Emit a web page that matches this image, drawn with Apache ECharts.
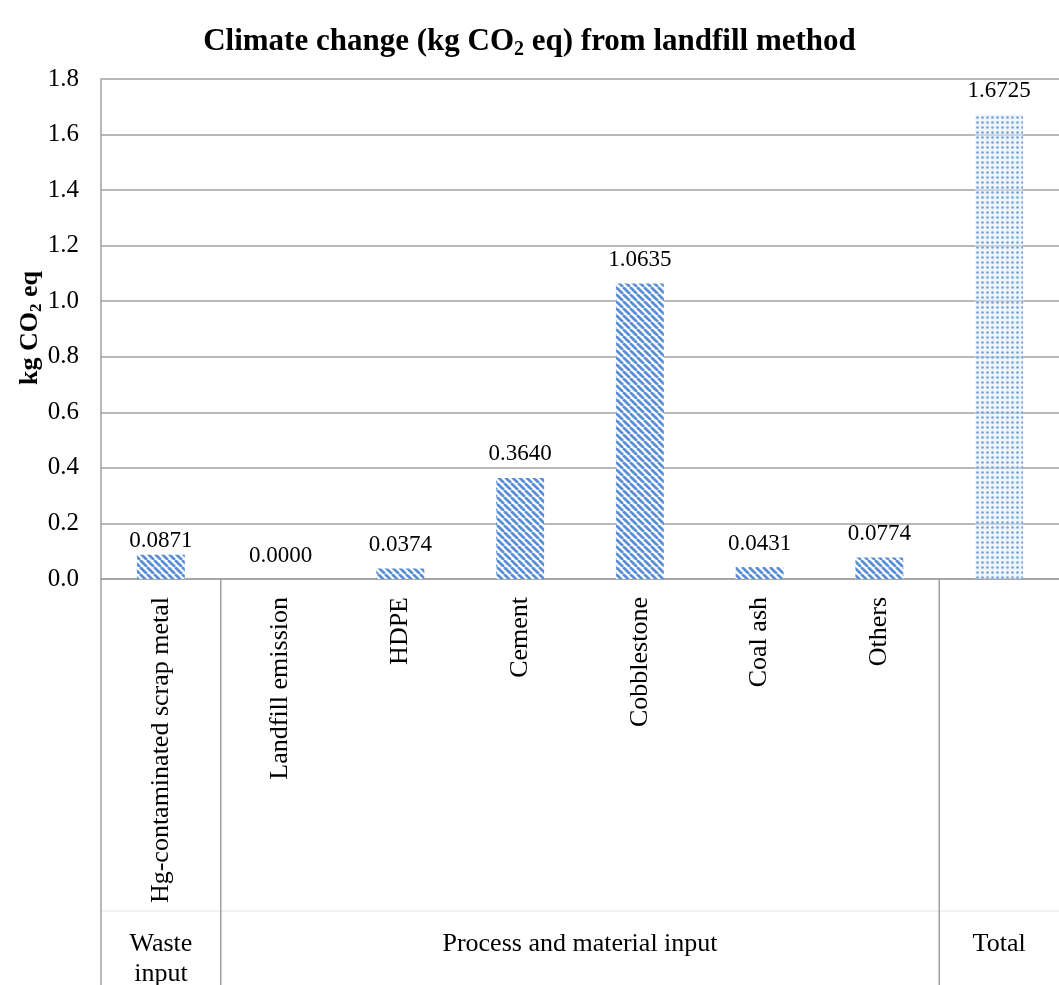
<!DOCTYPE html>
<html>
<head>
<meta charset="utf-8">
<script src="https://cdn.jsdelivr.net/npm/echarts@6/dist/echarts.min.js"></script>
<style>
  html, body { margin: 0; padding: 0; background: #fff; }
  #chart { width: 1059px; height: 985px; }
</style>
</head>
<body>
<div id="chart"></div>
<script>
// Chart data
const categories = ['Hg-contaminated scrap metal', 'Landfill emission', 'HDPE', 'Cement',
                    'Cobblestone', 'Coal ash', 'Others', 'Total'];
const values = [0.0871, 0.0000, 0.0374, 0.3640, 1.0635, 0.0431, 0.0774, 1.6725];
const groupNames = ['Waste\ninput', 'Process and material input', 'Total'];
const groupFrom = [0, 1, 7];
const groupTo = [0, 6, 7];
const yMin = 0, yMax = 1.8, yStep = 0.2;

const SERIF = 'Liberation Serif, Times New Roman, serif';
const GRID_COLOR = '#a0a0a0';

// Diagonal hatch fill for the component bars
function stripePattern() {
  const s = 7;
  const c = document.createElement('canvas');
  c.width = c.height = s;
  const g = c.getContext('2d');
  g.fillStyle = '#ffffff';
  g.fillRect(0, 0, s, s);
  g.strokeStyle = '#5b8fd3';
  g.lineWidth = 2.7;
  for (let k = -1; k <= 1; k++) {
    g.beginPath();
    g.moveTo(k * s, 0);
    g.lineTo(k * s + s, s);
    g.stroke();
  }
  return c;
}

// Dotted fill for the total bar
function dotPattern() {
  const s = 5;
  const c = document.createElement('canvas');
  c.width = c.height = s;
  const g = c.getContext('2d');
  g.fillStyle = 'rgba(226,236,250,0.55)';
  g.fillRect(0, 0, s, s);
  g.fillStyle = '#7aa3da';
  g.beginPath();
  g.arc(2.5, 2.5, 1.35, 0, Math.PI * 2);
  g.fill();
  return c;
}

const stripes = stripePattern();
const dots = dotPattern();

const chart = echarts.init(document.getElementById('chart'), null, { renderer: 'canvas' });

const option = {
  backgroundColor: '#ffffff',
  animation: false,
  title: {
    text: '{b|Climate change (kg CO}{s|2}{b| eq) from landfill method}',
    left: 'center',
    top: 19,
    textStyle: {
      rich: {
        b: { fontFamily: SERIF, fontWeight: 'bold', fontSize: 31, color: '#000' },
        s: { fontFamily: SERIF, fontWeight: 'bold', fontSize: 20, color: '#000', padding: [16, 0, 0, 0] }
      }
    }
  },
  grid: { left: 101, right: -4, top: 79, bottom: 406, containLabel: false },
  xAxis: {
    type: 'category',
    data: categories,
    axisLine: { show: true, lineStyle: { color: GRID_COLOR, width: 1.5 } },
    axisTick: { show: false },
    axisLabel: {
      interval: 0,
      rotate: 90,
      margin: 18,
      fontFamily: SERIF,
      fontSize: 26,
      color: '#000',
      // the last category is named only in the group row
      formatter: (v, i) => (i === categories.length - 1 ? '' : v)
    }
  },
  yAxis: {
    type: 'value',
    min: yMin,
    max: yMax,
    interval: yStep,
    axisLine: { show: true, lineStyle: { color: GRID_COLOR, width: 1.5 } },
    axisTick: { show: false },
    splitLine: { show: true, lineStyle: { color: GRID_COLOR, width: 1.5 } },
    axisLabel: {
      margin: 22,
      fontFamily: SERIF,
      fontSize: 25,
      color: '#000',
      formatter: v => v.toFixed(1)
    }
  },
  series: [{
    type: 'bar',
    barWidth: '40%',
    data: values.map((v, i) => ({
      value: v,
      itemStyle: { color: { image: i === values.length - 1 ? dots : stripes, repeat: 'repeat' } },
      // first label sits close to its bar, clear of the 0.2 gridline
      label: i === 0 ? { distance: 2 } : undefined
    })),
    label: {
      show: true,
      position: 'top',
      distance: 12,
      fontFamily: SERIF,
      fontSize: 23,
      color: '#000',
      formatter: p => p.value.toFixed(4)
    }
  }]
};

chart.setOption(option);

// Category-group row below the axis: separators and group names
function drawGroups() {
  const px = i => chart.convertToPixel({ xAxisIndex: 0 }, i);
  const step = px(1) - px(0);
  const axisY = chart.convertToPixel({ yAxisIndex: 0 }, yMin);
  const bottomY = 985;
  const rowLineY = axisY + 332;
  const labelY = axisY + 365;
  const elements = [];

  elements.push({
    type: 'line', silent: true, z: 1,
    shape: { x1: px(0) - step / 2, y1: rowLineY, x2: 1059, y2: rowLineY },
    style: { stroke: '#e4e4e4', lineWidth: 1 }
  });

  groupNames.forEach((name, g) => {
    const left = px(groupFrom[g]) - step / 2;
    const right = px(groupTo[g]) + step / 2;
    elements.push({
      type: 'line', silent: true, z: 2,
      shape: { x1: left, y1: axisY, x2: left, y2: bottomY },
      style: { stroke: GRID_COLOR, lineWidth: 1.5 }
    });
    elements.push({
      type: 'text', silent: true, z: 3,
      x: (left + right) / 2,
      y: labelY + (name.indexOf('\n') >= 0 ? 15 : 0),
      style: {
        text: name,
        align: 'center',
        verticalAlign: 'middle',
        fontFamily: SERIF,
        fontSize: 26,
        lineHeight: 30,
        fill: '#000'
      }
    });
  });

  // Vertical axis title
  elements.push({
    type: 'text', silent: true, z: 3,
    x: 30, y: 328,
    rotation: Math.PI / 2,
    style: {
      text: '{b|kg CO}{s|2}{b| eq}',
      align: 'center',
      verticalAlign: 'middle',
      rich: {
        b: { fontFamily: SERIF, fontWeight: 'bold', fontSize: 26, fill: '#000', color: '#000' },
        s: { fontFamily: SERIF, fontWeight: 'bold', fontSize: 17, fill: '#000', color: '#000', padding: [13, 0, 0, 0] }
      }
    }
  });

  chart.setOption({ graphic: elements });
}

drawGroups();
</script>
</body>
</html>
